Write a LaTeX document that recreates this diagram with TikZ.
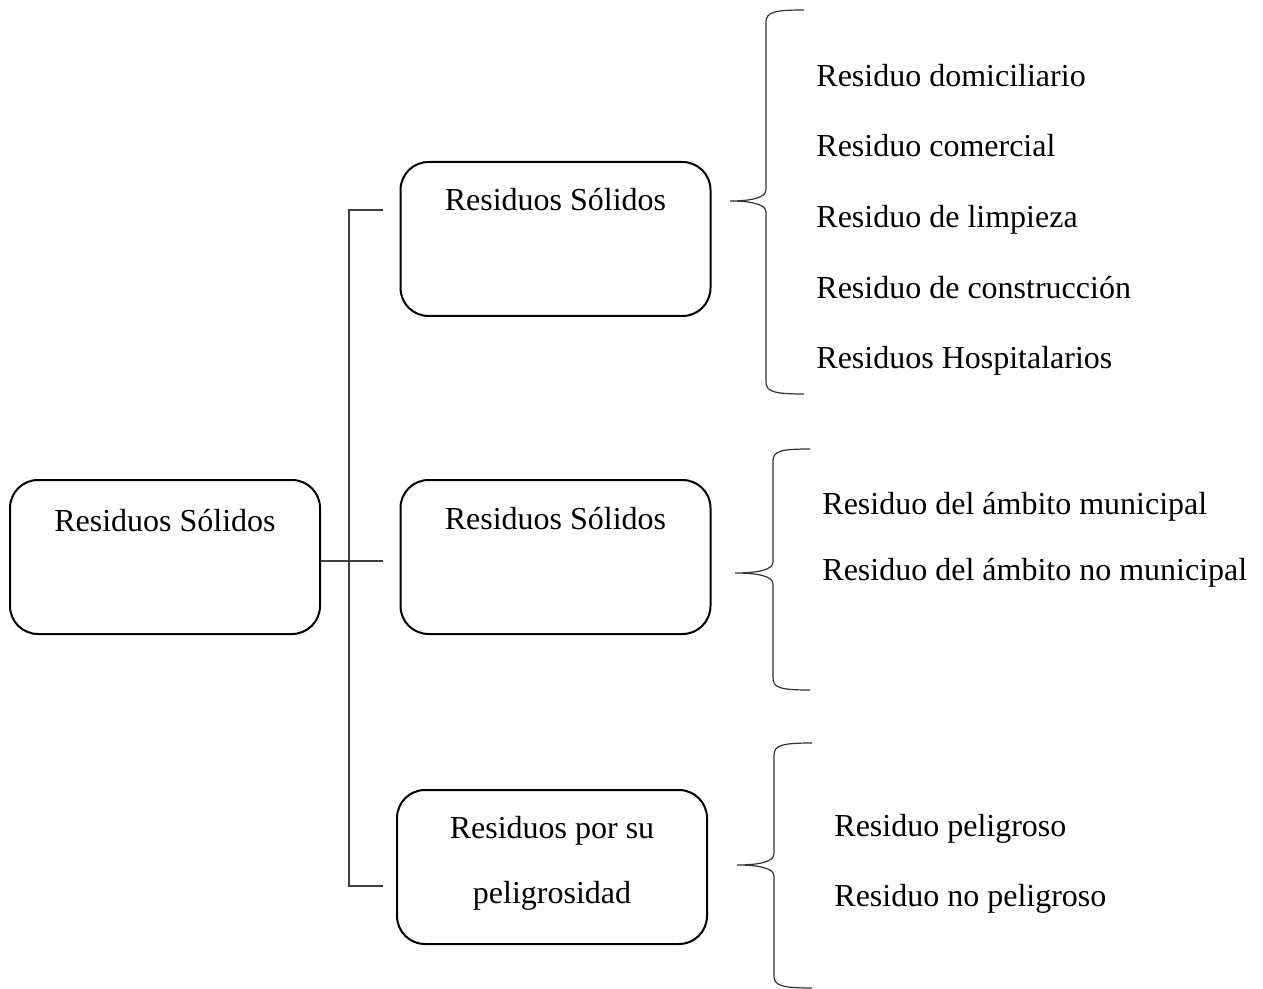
\documentclass[tikz,border=0pt]{standalone}
\usepackage{fontspec}
\setmainfont{Liberation Serif}
\begin{document}
\begin{tikzpicture}[x=0.5pt,y=-0.5pt,
  box/.style={draw=black,line width=1pt,rounded corners=14pt,minimum width=155pt,minimum height=77pt,inner sep=0pt},
  txt/.style={font=\fontsize{16}{19}\selectfont,inner sep=0pt},
  item/.style={txt,anchor=base west},
  ctitle/.style={txt,anchor=base},
  conn/.style={draw=black!75,line width=0.6pt},
  brace/.style={draw=black!80,line width=0.6pt}]
\useasboundingbox (0,0) rectangle (1263,989);
% boxes
\node[box] (root) at (165,557) {};
\node[box] (b1) at (555.5,239) {};
\node[box] (b2) at (555.5,557) {};
\node[box] (b3) at (552,867) {};
\node[ctitle] (troot) at (165,531) {Residuos Sólidos};
\node[ctitle] (tb1) at (555.5,211) {Residuos Sólidos};
\node[ctitle] (tb2) at (555.5,529) {Residuos Sólidos};
\node[ctitle] (tb3a) at (552,838) {Residuos por su};
\node[ctitle] (tb3b) at (552,903) {peligrosidad};
% connectors
\coordinate (vtop) at (349,210);
\coordinate (vbot) at (349,886);
\coordinate (e1) at (383,210);
\coordinate (e2) at (383,561);
\coordinate (e3) at (383,886);
\draw[conn] (e1) -- (vtop) -- (vbot) -- (e3);
\draw[conn] (root.east |- e2) -- (e2);
% braces
\draw[brace] (804,10) .. controls (775,10) and (766,12) .. (766,22) -- (766,190)
  .. controls (766,198) and (750,201) .. (730,201)
  .. controls (750,201) and (766,204) .. (766,212) -- (766,382)
  .. controls (766,392) and (775,394) .. (804,394);
\draw[brace] (810,449) .. controls (781,449) and (773,451) .. (773,461) -- (773,562)
  .. controls (773,570) and (757,573) .. (735,573)
  .. controls (757,573) and (773,576) .. (773,584) -- (773,678)
  .. controls (773,688) and (781,690) .. (810,690);
\draw[brace] (812,743) .. controls (783,743) and (774,745) .. (774,755) -- (774,854)
  .. controls (774,862) and (758,865) .. (737,865)
  .. controls (758,865) and (774,868) .. (774,876) -- (774,976)
  .. controls (774,986) and (783,988) .. (812,988);
% items
\node[item] (i1) at (816,86.5) {Residuo domiciliario};
\node[item] (i2) at (816,156.5) {Residuo comercial};
\node[item] (i3) at (816,227.5) {Residuo de limpieza};
\node[item] (i4) at (816,298.5) {Residuo de construcción};
\node[item] (i5) at (816,368.5) {Residuos Hospitalarios};
\node[item] (j1) at (822,514) {Residuo del ámbito municipal};
\node[item] (j2) at (822,580) {Residuo del ámbito no municipal};
\node[item] (k1) at (834,836.5) {Residuo peligroso};
\node[item] (k2) at (834,906.5) {Residuo no peligroso};
\end{tikzpicture}
\end{document}
